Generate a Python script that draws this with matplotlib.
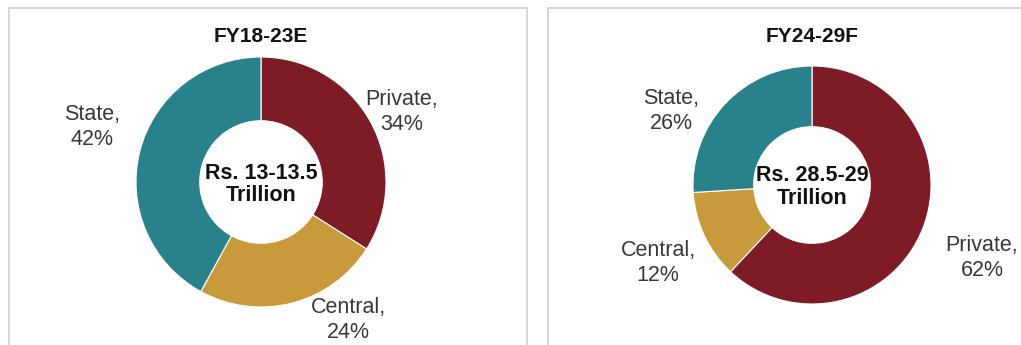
import matplotlib
matplotlib.use('Agg')
import matplotlib.pyplot as plt
from matplotlib.patches import Rectangle

plt.rcParams['font.family'] = ['Liberation Sans', 'DejaVu Sans']

W, H = 1021, 345

# data
titles = ['FY18-23E', 'FY24-29F']
totals = ['Rs. 13-13.5\nTrillion', 'Rs. 28.5-29\nTrillion']
segments = ['Private', 'Central', 'State']
share_fy18 = [34, 24, 42]
share_fy24 = [62, 12, 26]
colors = ['#7D1B27', '#C99A3B', '#29828B']

# layout in pixels: centre x, centre y (from top), radius
charts = [
    dict(vals=share_fy18, cx=261, cy=182, r=125,
         lab={'Private': (402, 112), 'Central': (348, 320), 'State': (92, 127)}),
    dict(vals=share_fy24, cx=812, cy=185, r=119,
         lab={'Private': (982, 258), 'Central': (658, 263), 'State': (671, 111)}),
]

fig = plt.figure(figsize=(W / 100, H / 100), dpi=100)

# panel frames
for x0, x1 in [(9, 527), (548, 1035)]:
    fig.patches.append(Rectangle((x0 / W, -0.05), (x1 - x0) / W, (H + 17 - 8) / H,
                                 transform=fig.transFigure, fill=False,
                                 edgecolor='#D6D6D6', linewidth=1.4))

L = 1.7
for i, c in enumerate(charts):
    h = L * c['r']
    ax = fig.add_axes([(c['cx'] - h) / W, (H - c['cy'] - h) / H, 2 * h / W, 2 * h / H])
    ax.pie(c['vals'], colors=colors, startangle=90, counterclock=False, radius=1,
           wedgeprops=dict(width=0.51, edgecolor='white', linewidth=0.8))
    ax.set_xlim(-L, L)
    ax.set_ylim(-L, L)
    ax.set_aspect('equal')
    ax.axis('off')
    for seg, v in zip(segments, c['vals']):
        px, py = c['lab'][seg]
        ax.text((px - c['cx']) / c['r'], (c['cy'] - py) / c['r'], '{},\n{}%'.format(seg, v),
                ha='center', va='center', fontsize=15.5, color='#383838',
                linespacing=1.2, clip_on=False)
    ax.text(0, -0.02, totals[i], ha='center', va='center', fontsize=15.5,
            fontweight='bold', color='#111111', linespacing=1.12)
    fig.text(c['cx'] / W, 1 - 37 / H, titles[i], ha='center', va='center',
             fontsize=15, fontweight='bold', color='#111111')

fig.savefig('out.png', dpi=100)
